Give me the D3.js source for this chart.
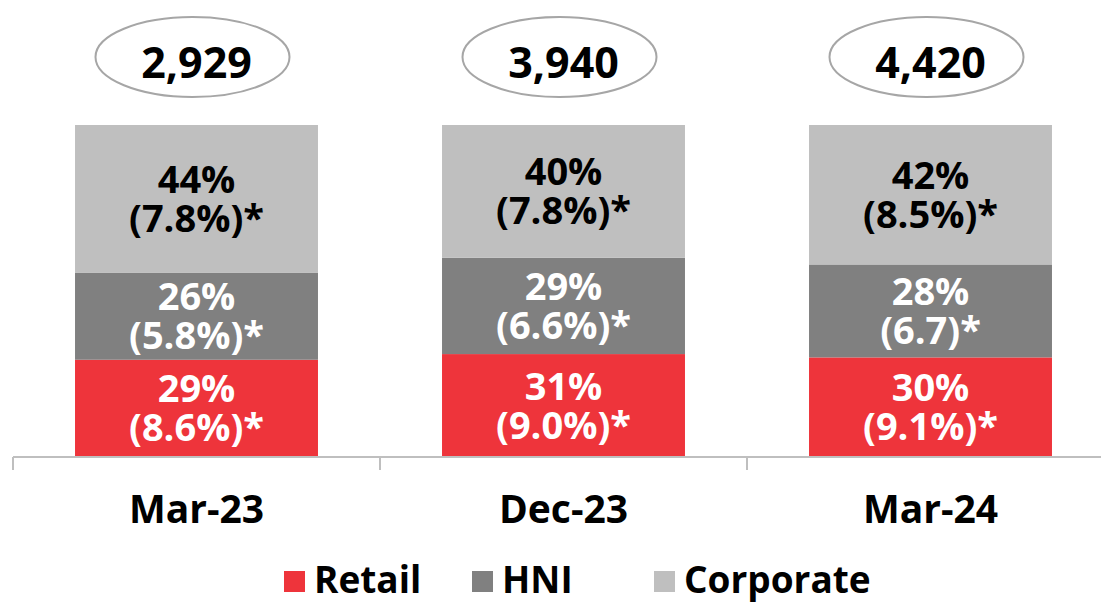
<!DOCTYPE html>
<html>
<head>
<meta charset="utf-8">
<script src="https://cdn.jsdelivr.net/npm/d3@7"></script>
<style>
  body { margin: 0; background: #fff; }
  svg text { font-family: "Open Sans", "Noto Sans", sans-serif; font-weight: 700; }
</style>
</head>
<body>
<div id="chart"></div>
<script>
// data
var periods = ["Mar-23", "Dec-23", "Mar-24"];
var totals = ["2,929", "3,940", "4,420"];
var seriesNames = ["Retail", "HNI", "Corporate"];
var retail = [29, 31, 30];
var hni = [26, 29, 28];
var corporate = [44, 40, 42];
var retailNote = ["(8.6%)*", "(9.0%)*", "(9.1%)*"];
var hniNote = ["(5.8%)*", "(6.6%)*", "(6.7)*"];
var corporateNote = ["(7.8%)*", "(7.8%)*", "(8.5%)*"];

var colors = {Retail: "#ee343b", HNI: "#808080", Corporate: "#bfbfbf"};
var textColors = {Retail: "#fff", HNI: "#fff", Corporate: "#000"};
var notes = {Retail: retailNote, HNI: hniNote, Corporate: corporateNote};

var width = 1101, height = 603;
var axisY = 457, topY = 125;

var rows = periods.map(function(p, i) {
  return {period: p, Retail: retail[i], HNI: hni[i], Corporate: corporate[i]};
});

var stack = d3.stack().keys(seriesNames).offset(d3.stackOffsetExpand);
var layers = stack(rows);

var svg = d3.select("#chart")
  .append("svg")
    .attr("width", width)
    .attr("height", height);

var x = d3.scaleBand()
  .domain(periods)
  .range([13, 1114]);   // last band runs off the right edge

var y = d3.scaleLinear()
  .domain([0, 1])
  .range([axisY, topY]);

var barW = x.bandwidth() * 0.662;

// bars + labels
layers.forEach(function(layer) {
  var key = layer.key;
  var g = svg.append("g").attr("class", "layer");

  g.selectAll("rect")
    .data(layer)
    .enter().append("rect")
      .attr("x", function(d) { return x(d.data.period) + (x.bandwidth() - barW) / 2; })
      .attr("y", function(d) { return y(d[1]); })
      .attr("width", barW)
      .attr("height", function(d) { return y(d[0]) - y(d[1]); })
      .style("fill", colors[key]);

  var lab = g.selectAll("text")
    .data(layer)
    .enter().append("text")
      .attr("text-anchor", "middle")
      .style("fill", textColors[key])
      .style("font-size", "38px")
      .attr("transform", function(d) {
        var cx = x(d.data.period) + x.bandwidth() / 2;
        var cy = (y(d[0]) + y(d[1])) / 2;
        return "translate(" + cx + "," + cy + ")";
      });
  lab.append("tspan")
    .attr("x", 0)
    .attr("y", -6)
    .text(function(d) { return d.data[key] + "%"; });
  lab.append("tspan")
    .attr("x", 0)
    .attr("y", 33)
    .text(function(d, i) { return notes[key][i]; });
});

// axis line with ticks at band edges
svg.append("line")
  .attr("x1", 13).attr("x2", width)
  .attr("y1", axisY).attr("y2", axisY)
  .style("stroke", "#bfbfbf")
  .style("stroke-width", 2);

svg.selectAll(".edge")
  .data(periods)
  .enter().append("line")
    .attr("class", "edge")
    .attr("x1", function(d) { return x(d); })
    .attr("x2", function(d) { return x(d); })
    .attr("y1", axisY)
    .attr("y2", axisY + 13)
    .style("stroke", "#bfbfbf")
    .style("stroke-width", 2);

var xAxis = svg.append("g")
  .attr("transform", "translate(0," + axisY + ")")
  .call(d3.axisBottom(x).tickSize(0).tickPadding(66));
xAxis.select(".domain").remove();
xAxis.selectAll("text")
  .style("font-size", "39px")
  .style("fill", "#000")
  .attr("dy", 0);

// totals in ellipses
var tot = svg.selectAll(".total")
  .data(periods)
  .enter().append("g")
    .attr("class", "total")
    .attr("transform", function(d) {
      return "translate(" + (x(d) + x.bandwidth() / 2 - 4) + ",57)";
    });
tot.append("ellipse")
  .attr("rx", 97)
  .attr("ry", 40)
  .style("fill", "#fff")
  .style("stroke", "#a6a6a6")
  .style("stroke-width", 2);
tot.append("text")
  .attr("text-anchor", "middle")
  .attr("x", 4)
  .attr("y", 21)
  .style("font-size", "43px")
  .style("fill", "#000")
  .text(function(d, i) { return totals[i]; });

// legend
var legendX = [284, 472, 654];
var legend = svg.selectAll(".legend")
  .data(seriesNames)
  .enter().append("g")
    .attr("class", "legend")
    .attr("transform", function(d, i) { return "translate(" + legendX[i] + ",571)"; });
legend.append("rect")
  .attr("width", 21)
  .attr("height", 21)
  .style("fill", function(d) { return colors[d]; });
legend.append("text")
  .attr("x", 30)
  .attr("y", 22)
  .style("font-size", "37px")
  .style("fill", "#000")
  .text(function(d) { return d; });
</script>
</body>
</html>
